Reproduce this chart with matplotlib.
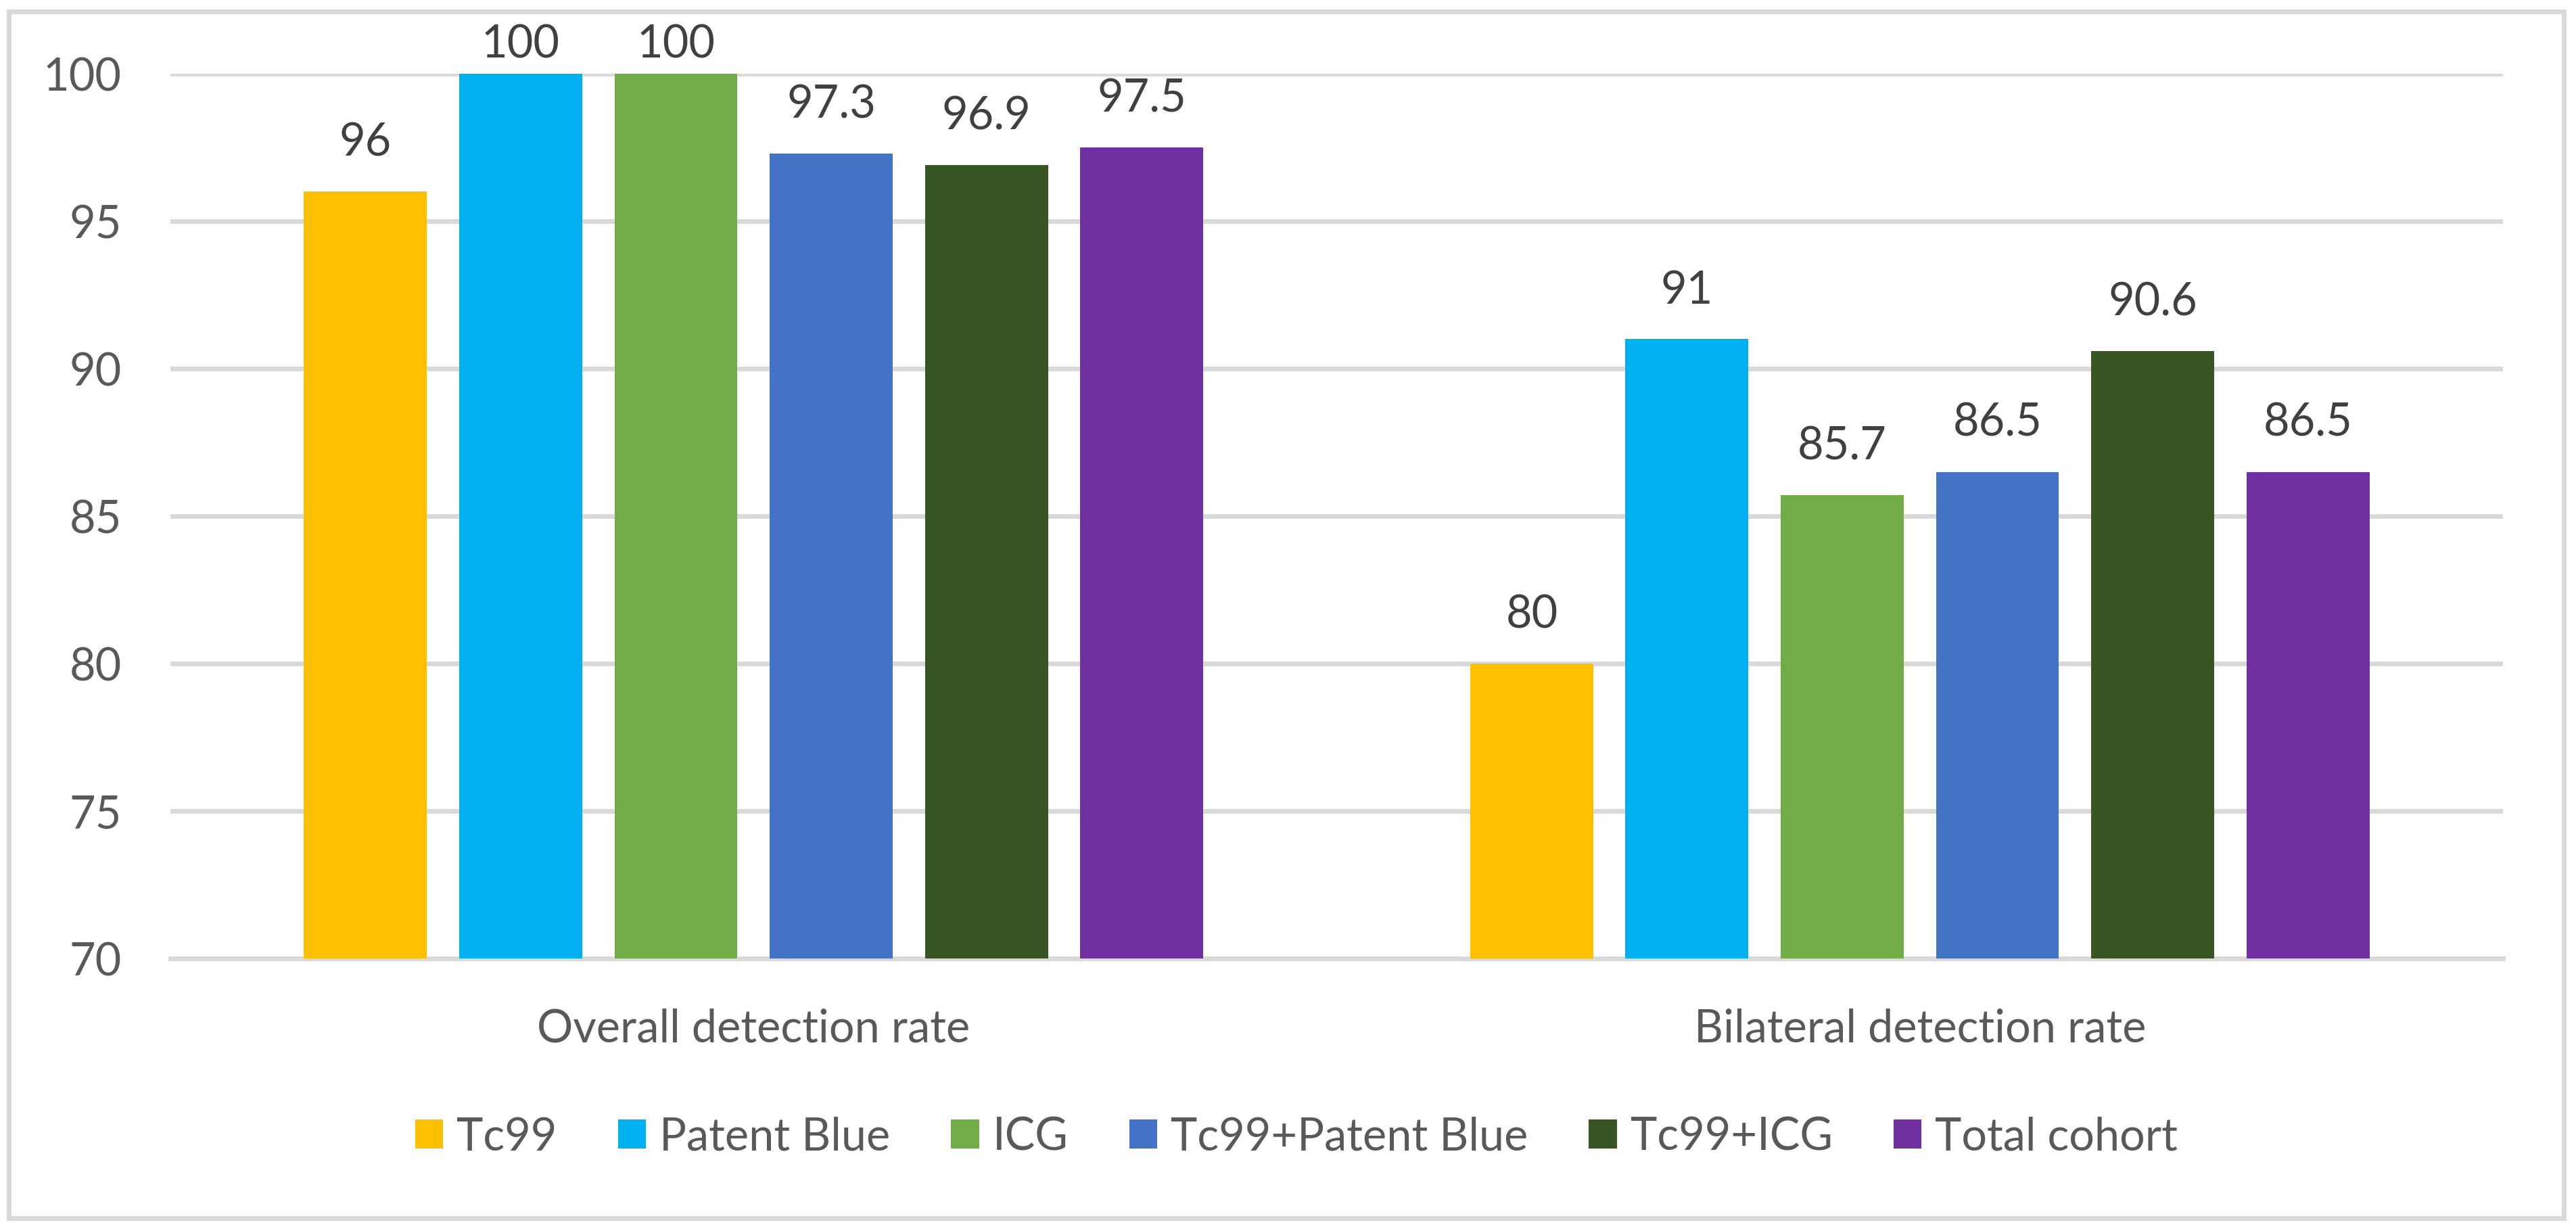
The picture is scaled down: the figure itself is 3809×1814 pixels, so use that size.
import matplotlib
matplotlib.use('Agg')
import matplotlib.pyplot as plt
from matplotlib.patches import Patch, Rectangle
import numpy as np

plt.rcParams['font.family'] = ['Lato', 'DejaVu Sans']

categories = ['Overall detection rate', 'Bilateral detection rate']
series = ['Tc99', 'Patent Blue', 'ICG', 'Tc99+Patent Blue', 'Tc99+ICG', 'Total cohort']
values = {
    'Tc99': [96, 80],
    'Patent Blue': [100, 91],
    'ICG': [100, 85.7],
    'Tc99+Patent Blue': [97.3, 86.5],
    'Tc99+ICG': [96.9, 90.6],
    'Total cohort': [97.5, 86.5],
}
colors = ['#FFC000', '#00B0F0', '#70AD47', '#4472C4', '#375623', '#7030A0']
yticks = [70, 75, 80, 85, 90, 95, 100]

W, H = 3809, 1815
fig = plt.figure(figsize=(W / 100, H / 100), dpi=100)
grey = '#D9D9D9'
txt = '#595959'
fs = 48

# outer chart border
fig.patches.append(Rectangle((13 / W, 1 - 1802 / H), (3791 - 13) / W, (1802 - 18) / H,
                             transform=fig.transFigure, fill=False,
                             edgecolor=grey, linewidth=5))

ax = fig.add_axes([252 / W, 1 - 1418 / H, 3449 / W, 1308 / H])
x = np.arange(len(categories))
width = 0.1055
step = 0.1331
for i, (name, c) in enumerate(zip(series, colors)):
    pos = x + (i - 2.5) * step
    ax.bar(pos, values[name], width=width, color=c, zorder=3)
    for px, v in zip(pos, values[name]):
        # labels at the top of the plot get squeezed down like in excel
        off = 30 if v < 99 else 9
        ax.annotate('%g' % v, (px, v), xytext=(0, off), textcoords='offset points',
                    ha='center', va='bottom', fontsize=fs, color='#404040',
                    annotation_clip=False)

ax.set_xlim(-0.5, 1.5)
ax.set_ylim(70, 100)
ax.set_yticks(yticks)
ax.set_yticklabels([str(t) for t in yticks])
ax.set_xticks(x)
ax.set_xticklabels(categories)
ax.tick_params(axis='y', length=0, pad=52, labelsize=fs, labelcolor=txt)
ax.tick_params(axis='x', length=0, pad=52, labelsize=fs, labelcolor=txt)
ax.yaxis.grid(True, color=grey, linewidth=5, zorder=0)
ax.set_axisbelow(True)
for s in ['top', 'left', 'right']:
    ax.spines[s].set_visible(False)
ax.spines['bottom'].set_color(grey)
ax.spines['bottom'].set_linewidth(5)

handles = [Patch(facecolor=c, label=n) for n, c in zip(series, colors)]
fig.legend(handles=handles, loc='center', bbox_to_anchor=(1917 / W, 1 - 1682 / H),
           ncol=6, frameon=False, fontsize=fs, labelcolor=txt,
           handlelength=0.62, handleheight=0.62, handletextpad=0.3,
           columnspacing=1.35)

fig.savefig('out.png', dpi=100)
